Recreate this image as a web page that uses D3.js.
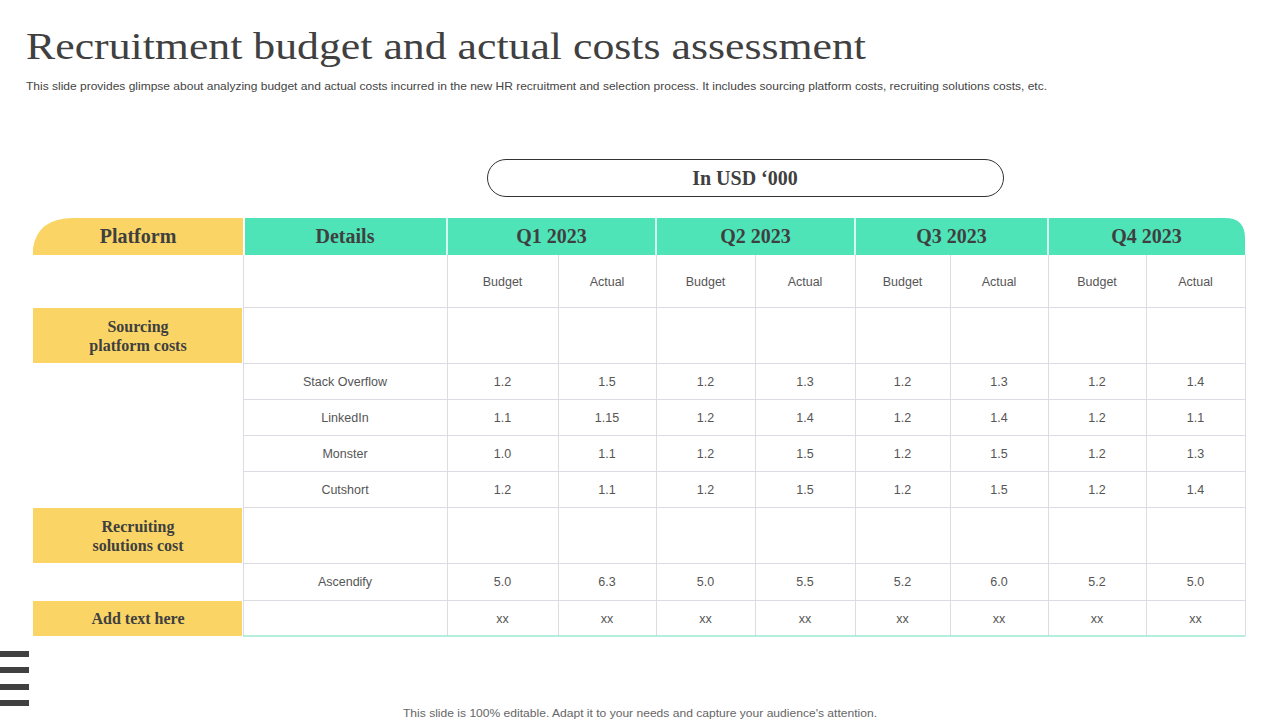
<!DOCTYPE html><html><head><meta charset="utf-8">
<script src="https://cdn.jsdelivr.net/npm/d3@7"></script>
<style>body{margin:0;background:#fff}svg{display:block}</style></head><body>
<svg id="c" width="1280" height="720"></svg>
<script>
const quarters=["Q1 2023","Q2 2023","Q3 2023","Q4 2023"];
const subHeads=["Budget","Actual"];
const details=["Stack Overflow","LinkedIn","Monster","Cutshort"];
const sourcing=[
 ["1.2","1.5","1.2","1.3","1.2","1.3","1.2","1.4"],
 ["1.1","1.15","1.2","1.4","1.2","1.4","1.2","1.1"],
 ["1.0","1.1","1.2","1.5","1.2","1.5","1.2","1.3"],
 ["1.2","1.1","1.2","1.5","1.2","1.5","1.2","1.4"]];
const ascendify=["5.0","6.3","5.0","5.5","5.2","6.0","5.2","5.0"];
const addRow=["xx","xx","xx","xx","xx","xx","xx","xx"];
const groups=["Sourcing\nplatform costs","Recruiting\nsolutions cost","Add text here"];

const svg=d3.select("#c");
const serif="'Liberation Serif','DejaVu Serif',serif", sans="'Liberation Sans',Arial,sans-serif";
svg.append("text").attr("x",26).attr("y",59).attr("font-family",serif).attr("font-size",37).attr("fill","#404040").attr("textLength",840).attr("lengthAdjust","spacingAndGlyphs").text("Recruitment budget and actual costs assessment");
svg.append("text").attr("x",26).attr("y",90).attr("font-family",sans).attr("font-size",11.3).attr("fill","#444").attr("textLength",1021).attr("lengthAdjust","spacingAndGlyphs").text("This slide provides glimpse about analyzing budget and actual costs incurred in the new HR recruitment and selection process. It includes sourcing platform costs, recruiting solutions costs, etc.");
svg.append("rect").attr("x",487.5).attr("y",159.5).attr("width",516).attr("height",37).attr("rx",18.5).attr("fill","#fff").attr("stroke","#333");
svg.append("text").attr("x",745).attr("y",185).attr("text-anchor","middle").attr("font-family",serif).attr("font-weight","bold").attr("font-size",20).attr("fill","#404040").text("In USD ‘000");

const colEdges=[33,243,447,558,656,755,855,950,1048,1146,1245];
const rowH=[37,52,56,36,36,36,36,56,37,36];
const rowEdges=[218];rowH.forEach(h=>rowEdges.push(rowEdges[rowEdges.length-1]+h));
const cx=i=>colEdges[i], rx=i=>rowEdges[i];
svg.append("path").attr("d",`M${cx(0)},${rx(1)} L${cx(0)},${rx(0)+30} Q${cx(0)+5},${rx(0)} ${cx(0)+40},${rx(0)} L${cx(1)},${rx(0)} L${cx(1)},${rx(1)} Z`).attr("fill","#FAD565");
svg.append("path").attr("d",`M${cx(1)+2},${rx(0)} L${cx(10)-20},${rx(0)} Q${cx(10)},${rx(0)} ${cx(10)},${rx(0)+20} L${cx(10)},${rx(1)} L${cx(1)+2},${rx(1)} Z`).attr("fill","#4FE3B8");
[cx(2),cx(4),cx(6),cx(8)].forEach(x=>svg.append("line").attr("x1",x).attr("x2",x).attr("y1",rx(0)).attr("y2",rx(1)).attr("stroke","#fff").attr("stroke-width",1.5));
const hdr=(t,x)=>svg.append("text").attr("x",x).attr("y",rx(0)+25).attr("text-anchor","middle").attr("font-family",serif).attr("font-weight","bold").attr("font-size",20).attr("fill","#3f3f3f").text(t);
hdr("Platform",(cx(0)+cx(1))/2);hdr("Details",(cx(1)+cx(2))/2);
quarters.forEach((q,i)=>hdr(q,(cx(2+2*i)+cx(4+2*i))/2));
[[2,groups[0]],[7,groups[1]],[9,groups[2]]].forEach(([r,t])=>{
 svg.append("rect").attr("x",cx(0)).attr("y",rx(r)+1).attr("width",cx(1)-cx(0)-1).attr("height",rx(r+1)-rx(r)-1).attr("fill","#FAD565");
 const lines=t.split("\n");
 lines.forEach((l,k)=>svg.append("text").attr("x",(cx(0)+cx(1))/2).attr("y",(rx(r)+rx(r+1))/2+6+(k-(lines.length-1)/2)*19).attr("text-anchor","middle").attr("font-family",serif).attr("font-weight","bold").attr("font-size",16).attr("fill","#3f3f3f").text(l));
});
const g=svg.append("g").attr("stroke","#dcdce4").attr("stroke-width",1);
for(let r=2;r<=9;r++) g.append("line").attr("x1",cx(1)).attr("x2",cx(10)).attr("y1",rx(r)+.5).attr("y2",rx(r)+.5);
for(let c=1;c<=10;c++) g.append("line").attr("x1",cx(c)+.5).attr("x2",cx(c)+.5).attr("y1",rx(1)).attr("y2",rx(10));
svg.append("line").attr("x1",cx(1)).attr("x2",cx(10)).attr("y1",rx(10)).attr("y2",rx(10)).attr("stroke","#9ee8d2").attr("stroke-width",1.5);
const cell=(t,c,r)=>svg.append("text").attr("x",(cx(c)+cx(c+1))/2).attr("y",(rx(r)+rx(r+1))/2+4.5).attr("text-anchor","middle").attr("font-family",sans).attr("font-size",12.5).attr("fill","#555").text(t);
for(let i=0;i<8;i++) cell(subHeads[i%2],2+i,1);
details.forEach((d,k)=>{cell(d,1,3+k);sourcing[k].forEach((v,i)=>cell(v,2+i,3+k));});
cell("Ascendify",1,8);ascendify.forEach((v,i)=>cell(v,2+i,8));
addRow.forEach((v,i)=>cell(v,2+i,9));
[651,667,684,700].forEach(y=>svg.append("rect").attr("x",0).attr("y",y).attr("width",29).attr("height",6).attr("fill","#404040"));
svg.append("text").attr("x",403).attr("y",717).attr("font-family",sans).attr("font-size",11.5).attr("fill","#666").attr("textLength",474).attr("lengthAdjust","spacingAndGlyphs").text("This slide is 100% editable. Adapt it to your needs and capture your audience's attention.");
</script></body></html>
